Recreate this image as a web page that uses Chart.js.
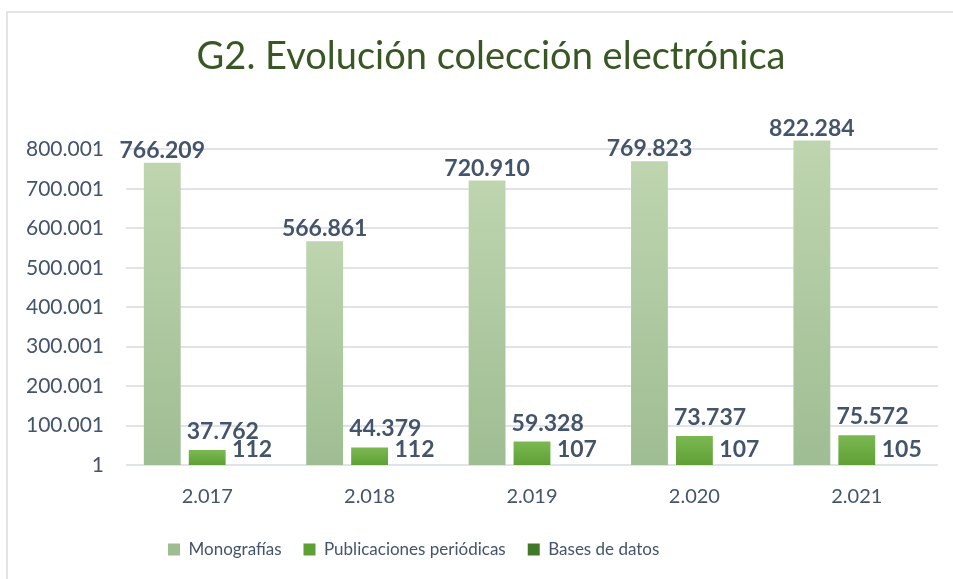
<!DOCTYPE html>
<html>
<head>
<meta charset="utf-8">
<script src="https://cdn.jsdelivr.net/npm/chart.js@4.4.1/dist/chart.umd.min.js"></script>
<style>
  html, body { margin: 0; padding: 0; background: #fff; }
  #wrap { position: relative; width: 953px; height: 579px; overflow: hidden; }
  #frame { position: absolute; left: 6px; top: 11px; width: 1000px; height: 600px;
           border-left: 2px solid #e1e5ea; border-top: 2px solid #e1e5ea; }
  canvas { position: absolute; left: 0; top: 0; }
</style>
</head>
<body>
<div id="wrap">
  <div id="frame"></div>
  <canvas id="myChart" width="953" height="579"></canvas>
</div>
<script>
// data
const years = ["2.017", "2.018", "2.019", "2.020", "2.021"];
const monografias = [766209, 566861, 720910, 769823, 822284];
const publicaciones = [37762, 44379, 59328, 73737, 75572];
const basesDatos = [112, 112, 107, 107, 105];
const yTicks = [1, 100001, 200001, 300001, 400001, 500001, 600001, 700001, 800001];

const textColor = "#44546a";

function fmt(v) {
  return String(Math.round(v)).replace(/\B(?=(\d{3})+(?!\d))/g, ".");
}

// vertical gradient per bar, light on top
function barFill(top, bottom, mid) {
  return function (ctx) {
    if (ctx.type !== "data") return mid;
    const chart = ctx.chart;
    const ys = chart.scales.y;
    if (!chart.chartArea || !ys) return mid;
    const yTop = ys.getPixelForValue(ctx.raw);
    const yBase = ys.getPixelForValue(ys.min);
    if (yBase - yTop < 2) return bottom;
    const g = chart.ctx.createLinearGradient(0, yTop, 0, yBase);
    g.addColorStop(0, top);
    g.addColorStop(1, bottom);
    return g;
  };
}

// value labels above bars
const valueLabels = {
  id: "valueLabels",
  afterDatasetsDraw(chart) {
    const ctx = chart.ctx;
    ctx.save();
    ctx.font = "bold 23px Lato";
    ctx.fillStyle = textColor;
    ctx.textBaseline = "alphabetic";
    chart.data.datasets.forEach((ds, i) => {
      const meta = chart.getDatasetMeta(i);
      meta.data.forEach((bar, j) => {
        const txt = fmt(ds.data[j]);
        if (i === 1) {
          ctx.textAlign = "left";
          ctx.fillText(txt, bar.x - bar.width / 2 - 2, bar.y - 11);
        } else {
          ctx.textAlign = "center";
          ctx.fillText(txt, bar.x, bar.y - (i === 0 ? 5 : 8));
        }
      });
    });
    ctx.restore();
  }
};

// move legend and title where the original has them
const placeBoxes = {
  id: "placeBoxes",
  afterLayout(chart) {
    const lg = chart.legend;
    const w = lg.right - lg.left;
    lg.left = 168 - 22;
    lg.right = lg.left + w;
    lg.top = 550 - 22 - 9;
    lg.bottom = 579;
    const t = chart.titleBlock;
    t.left += 22;
    t.right += 22;
  }
};

new Chart("myChart", {
  type: "bar",
  data: {
    labels: years,
    datasets: [{
      label: "Monografías",
      data: monografias,
      backgroundColor: barFill("#bed5b0", "#9fbd92", "#b3cda5")
    }, {
      label: "Publicaciones periódicas",
      data: publicaciones,
      backgroundColor: barFill("#7cb852", "#5fa035", "#70ad47")
    }, {
      label: "Bases de datos",
      data: basesDatos,
      backgroundColor: barFill("#5f9440", "#43782a", "#548235")
    }]
  },
  options: {
    responsive: false,
    animation: false,
    layout: { padding: { left: 0, right: 15, top: 0, bottom: 29 } },
    datasets: {
      bar: { categoryPercentage: 0.83, barPercentage: 0.82 }
    },
    scales: {
      x: {
        grid: { display: false },
        border: { display: false },
        ticks: { color: textColor, font: { family: "Lato", size: 20 }, padding: 12 },
        afterFit(scale) { scale.height = 45; }
      },
      y: {
        min: 1,
        max: 840001,
        border: { display: false },
        grid: { color: "#e0e4ea", lineWidth: 2, drawTicks: false },
        afterBuildTicks(scale) { scale.ticks = yTicks.map(v => ({ value: v })); },
        ticks: {
          color: textColor,
          font: { family: "Lato", size: 21 },
          padding: 22,
          callback: (v) => fmt(v)
        },
        afterFit(scale) { scale.width = 126; }
      }
    },
    plugins: {
      title: {
        display: true,
        text: "G2. Evolución colección electrónica",
        color: "#385723",
        font: { family: "Lato", size: 38, weight: "normal" },
        padding: { top: 34, bottom: 54 }
      },
      legend: {
        position: "bottom",
        align: "start",
        maxHeight: 40,
        labels: {
          color: textColor,
          font: { family: "Lato", size: 17 },
          boxWidth: 12,
          boxHeight: 12,
          padding: 22
        }
      },
      tooltip: { enabled: false }
    }
  },
  plugins: [valueLabels, placeBoxes]
});
</script>
</body>
</html>
